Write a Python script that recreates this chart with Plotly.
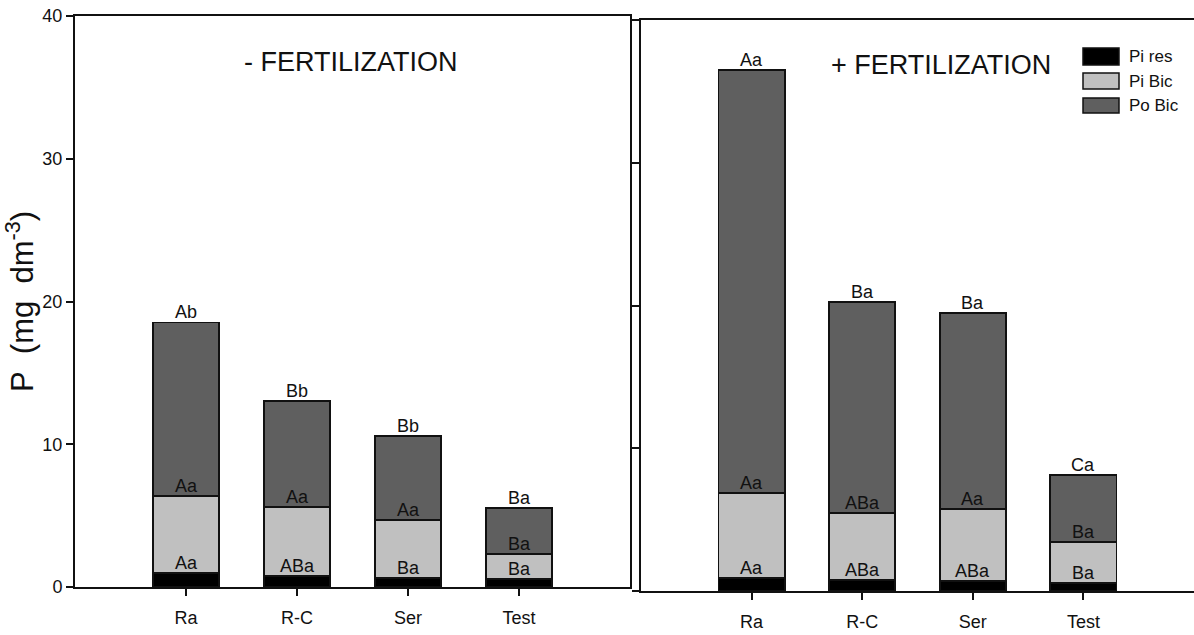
import plotly.graph_objects as go

# Phosphorus fractions (mg dm-3) per system, without and with fertilization
categories = ["Ra", "R-C", "Ser", "Test"]
series_names = ["Pi res", "Pi Bic", "Po Bic"]

nofert_pi_res = [1.00, 0.75, 0.63, 0.56]
nofert_pi_bic = [5.38, 4.86, 4.04, 1.73]
nofert_po_bic = [12.15, 7.42, 5.89, 3.25]

fert_pi_res = [0.93, 0.77, 0.70, 0.54]
fert_pi_bic = [5.96, 4.72, 5.07, 2.91]
fert_po_bic = [29.61, 14.76, 13.73, 4.68]

# Letters of the mean comparison tests, one list per fraction
nofert_res_letters = ["Aa", "ABa", "Ba", "Ba"]
nofert_bic_letters = ["Aa", "Aa", "Aa", "Ba"]
nofert_po_letters = ["Ab", "Bb", "Bb", "Ba"]

fert_res_letters = ["Aa", "ABa", "ABa", "Ba"]
fert_bic_letters = ["Aa", "ABa", "Aa", "Ba"]
fert_po_letters = ["Aa", "Ba", "Ba", "Ca"]

panel_titles = ["- FERTILIZATION", "+ FERTILIZATION"]
y_ticks = [0, 10, 20, 30, 40]

colors = ["#000000", "#c0c0c0", "#5f5f5f"]
FONT = "Liberation Sans, Arial, sans-serif"
INK = "#111111"

W, H = 1194, 635
ML, MR, MT, MB = 75, 0, 16, 44
PW, PH = W - ML - MR, H - MT - MB


def px_x(x):
    return (x - ML) / PW


def px_y(y):
    return (H - MB - y) / PH


fig = go.Figure()

panels = [
    ("x", "y", [nofert_pi_res, nofert_pi_bic, nofert_po_bic],
     [nofert_res_letters, nofert_bic_letters, nofert_po_letters]),
    ("x2", "y2", [fert_pi_res, fert_pi_bic, fert_po_bic],
     [fert_res_letters, fert_bic_letters, fert_po_letters]),
]

annotations = []
for xa, ya, stacks, letters in panels:
    base = [0.0] * len(categories)
    for name, vals, col, labs in zip(series_names, stacks, colors, letters):
        fig.add_trace(go.Bar(
            x=categories, y=vals, name=name, xaxis=xa, yaxis=ya,
            marker=dict(color=col, line=dict(color="#111111", width=1.8)),
            width=0.6, showlegend=False,
        ))
        base = [b + v for b, v in zip(base, vals)]
        for cat, top, lab in zip(categories, base, labs):
            annotations.append(dict(
                x=cat, y=top, xref=xa, yref=ya, text=lab, showarrow=False,
                yanchor="bottom", yshift=-2,
                font=dict(family=FONT, size=18, color=INK),
            ))

# Panel headings
annotations.append(dict(x=0.497, y=0.949, xref="x domain", yref="y domain",
                        text=panel_titles[0], showarrow=False,
                        font=dict(family=FONT, size=27, color=INK)))
annotations.append(dict(x=0.5425, y=0.951, xref="x2 domain", yref="y2 domain",
                        text=panel_titles[1], showarrow=False,
                        font=dict(family=FONT, size=27, color=INK)))

# Legend drawn as boxed swatches with labels
shapes = []
swatch_rows = [(48, 65), (73, 89), (98, 113)]
for name, col, (y0, y1) in zip(series_names, colors, swatch_rows):
    shapes.append(dict(type="rect", xref="paper", yref="paper",
                       x0=px_x(1083), x1=px_x(1119), y0=px_y(y1), y1=px_y(y0),
                       fillcolor=col, line=dict(color="#111111", width=1.5)))
    annotations.append(dict(x=px_x(1127), y=px_y((y0 + y1) / 2), xref="paper",
                            yref="paper", text=name, showarrow=False,
                            xanchor="left", yanchor="middle",
                            font=dict(family=FONT, size=17, color=INK)))

axis_common = dict(showline=True, linecolor="#111111", linewidth=2,
                   ticks="outside", ticklen=7, tickwidth=2, tickcolor="#111111",
                   showgrid=False, zeroline=False)

fig.update_layout(
    width=W, height=H,
    margin=dict(l=ML, r=MR, t=MT, b=MB),
    paper_bgcolor="white", plot_bgcolor="white",
    barmode="stack", bargap=0.4,
    font=dict(family=FONT, color=INK),
    annotations=annotations, shapes=shapes,
    xaxis=dict(axis_common, domain=[0, px_x(630)], type="category",
               categoryorder="array", categoryarray=categories,
               range=[-1, 4], mirror=True, anchor="y",
               tickfont=dict(family=FONT, size=18, color=INK),
               ticklabelstandoff=6),
    yaxis=dict(axis_common, domain=[px_y(587), px_y(16)], range=[0, 40],
               tickvals=y_ticks, mirror=True, anchor="x",
               tickfont=dict(family=FONT, size=18, color=INK),
               title=dict(text="P\u00a0\u00a0(mg\u00a0\u00a0dm<sup>-3</sup>)",
                          font=dict(family=FONT, size=31, color=INK),
                          standoff=6)),
    xaxis2=dict(axis_common, domain=[px_x(641), 1], type="category",
                categoryorder="array", categoryarray=categories,
                range=[-1, 4], mirror=True, anchor="y2",
                tickfont=dict(family=FONT, size=18, color=INK),
                ticklabelstandoff=6),
    yaxis2=dict(axis_common, domain=[0, px_y(20)], range=[0, 40],
                tickvals=y_ticks, showticklabels=False, anchor="x2"),
)

fig.write_html("out.html")
